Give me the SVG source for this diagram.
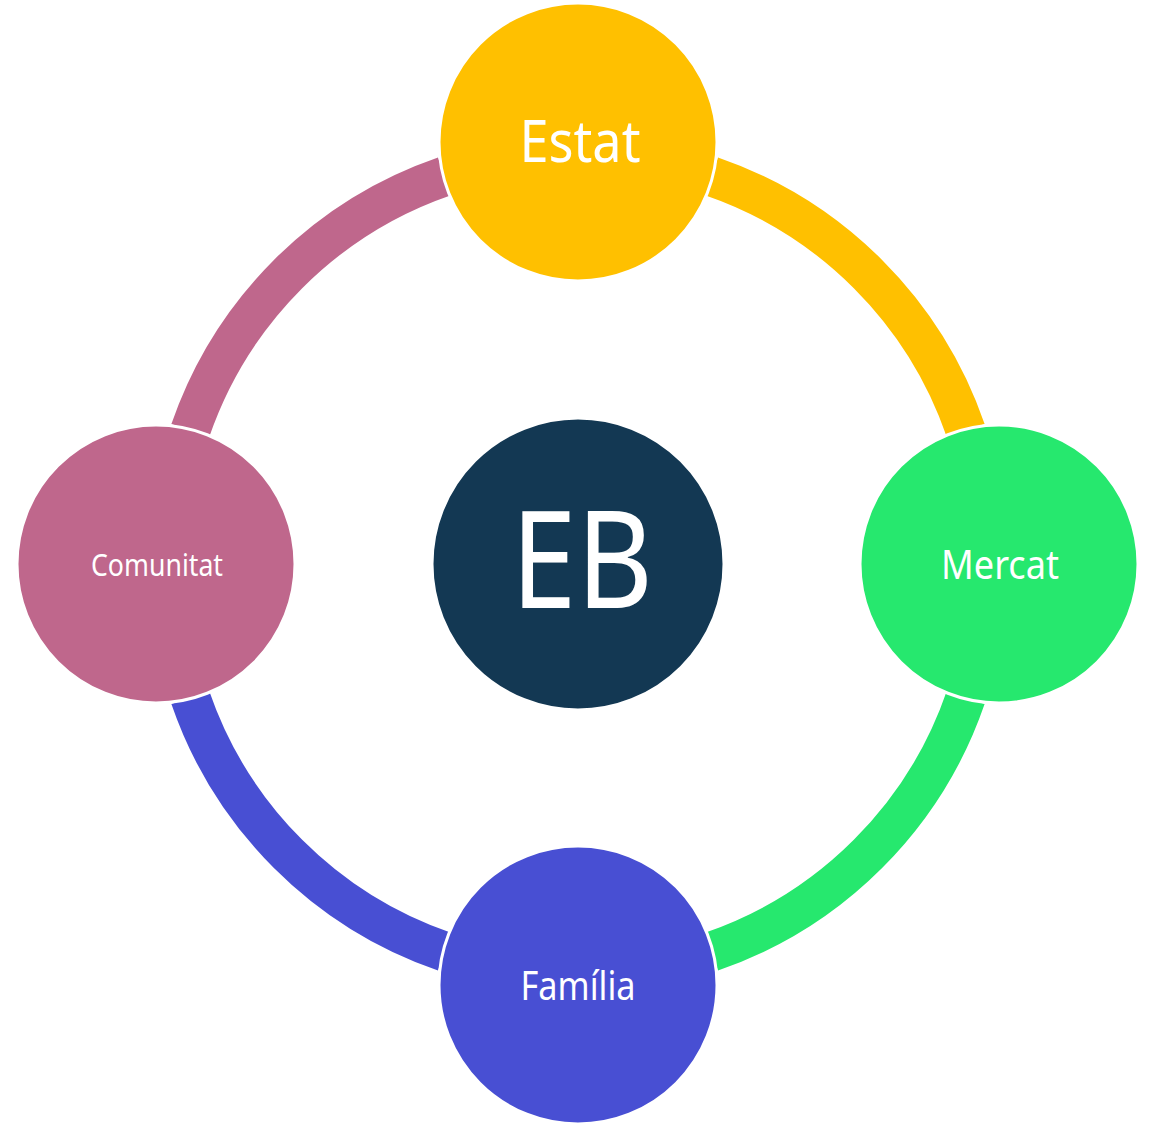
<svg xmlns="http://www.w3.org/2000/svg" width="1158" height="1124" viewBox="0 0 1158 1124">
<style>
.arc{fill:none;stroke-width:40;stroke-linecap:butt}
.node{stroke:#fff;stroke-width:3}
.lbl{font-family:"Noto Sans","Open Sans","DejaVu Sans",sans-serif;fill:#fff;text-anchor:middle}
</style>
<rect width="1158" height="1124" fill="#fff"/>
<g id="connectors">
<path class="arc" stroke="#FFC000" d="M711.5,176.3 A410,410 0 0 1 965.7,430.5"/>
<path class="arc" stroke="#26E86E" d="M965.7,697.5 A410,410 0 0 1 711.5,951.7"/>
<path class="arc" stroke="#484FD3" d="M444.5,951.7 A410,410 0 0 1 190.3,697.5"/>
<path class="arc" stroke="#BF678C" d="M190.3,430.5 A410,410 0 0 1 444.5,176.3"/>
</g>
<g id="node-eb">
<circle class="node" cx="578" cy="564" r="146" fill="#133853"/>
<text class="lbl" x="582" y="608" font-size="136" textLength="142" lengthAdjust="spacingAndGlyphs">EB</text>
</g>
<g id="node-estat">
<circle class="node" cx="578" cy="142" r="139" fill="#FFC000"/>
<text class="lbl" x="580" y="162" font-size="58" textLength="121" lengthAdjust="spacingAndGlyphs">Estat</text>
</g>
<g id="node-mercat">
<circle class="node" cx="999" cy="564" r="139" fill="#26E86E"/>
<text class="lbl" x="1000" y="579" font-size="40" textLength="118" lengthAdjust="spacingAndGlyphs">Mercat</text>
</g>
<g id="node-familia">
<circle class="node" cx="578" cy="985" r="139" fill="#484FD3"/>
<text class="lbl" x="578" y="1000" font-size="40" textLength="115" lengthAdjust="spacingAndGlyphs">Família</text>
</g>
<g id="node-comunitat">
<circle class="node" cx="156" cy="564" r="139" fill="#BF678C"/>
<text class="lbl" x="157" y="576" font-size="31" textLength="132" lengthAdjust="spacingAndGlyphs">Comunitat</text>
</g>
</svg>
